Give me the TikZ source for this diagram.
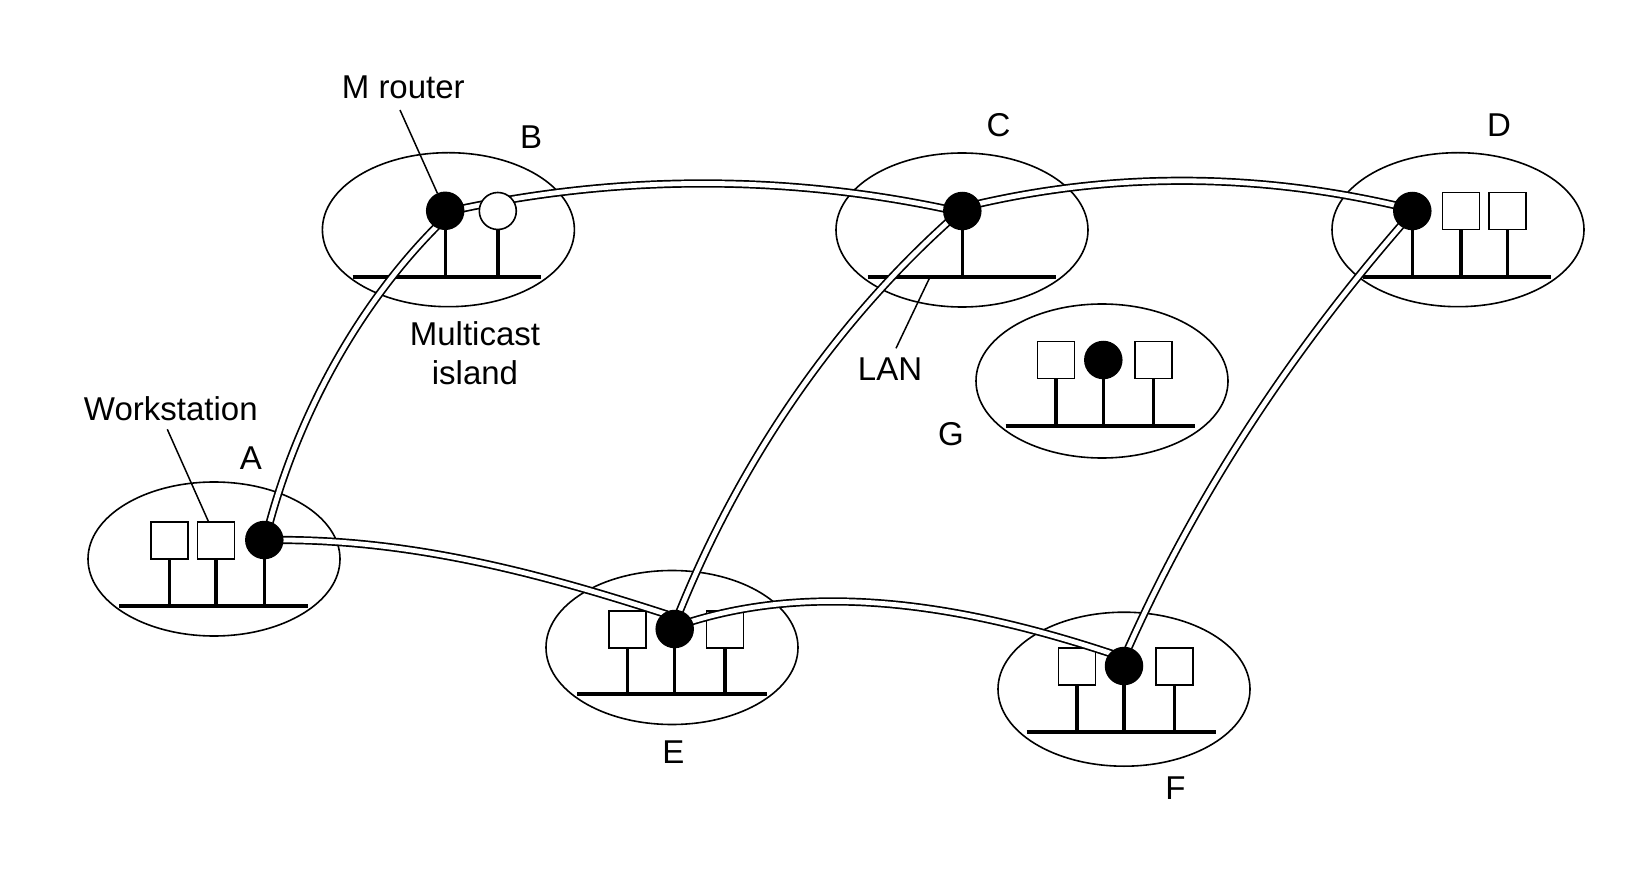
\documentclass[tikz,border=0pt]{standalone}
\usepackage{fontspec}
\setmainfont{Liberation Sans}
\usetikzlibrary{shapes.geometric}
\pgfdeclarelayer{bg}
\pgfdeclarelayer{fg}
\pgfsetlayers{bg,main,fg}
\begin{document}
\begin{tikzpicture}[x=1pt,y=-1pt,
  island/.style={draw, ellipse, line width=1.6pt, minimum width=252pt, minimum height=154pt, inner sep=0pt},
  ws/.style={draw, rectangle, line width=1.6pt, minimum size=37pt, inner sep=0pt, fill=white},
  mrouter/.style={circle, fill=black, minimum size=38.5pt, inner sep=0pt},
  plainrouter/.style={circle, draw, fill=white, line width=1.6pt, minimum size=37pt, inner sep=0pt},
  bus/.style={line width=4.2pt},
  stem/.style={line width=3.4pt},
  tunnel/.style={draw, line width=1.7pt, double=white, double distance=4.8pt, shorten <=-4pt, shorten >=-4pt},
  leader/.style={line width=1.5pt},
  lbl/.style={font=\fontsize{33}{39.3}\selectfont, inner sep=0pt},
]
\useasboundingbox (0,0) rectangle (1642,874);

% islands, LANs and workstations
\begin{pgfonlayer}{bg}
  \node[island] (islA) at (214,559) {};
  \node[island] (islB) at (448.4,229.7) {};
  \node[island] (islC) at (962,230) {};
  \node[island] (islD) at (1458,229.7) {};
  \node[island] (islE) at (672,647.5) {};
  \node[island] (islF) at (1124,689.2) {};
  \node[island] (islG) at (1102,381) {};

  \draw[bus] (119.3,606) coordinate (busA-w) -- (308.3,606) coordinate (busA-e);
  \draw[bus] (352.7,276.7) coordinate (busB-w) -- (540.7,276.7) coordinate (busB-e);
  \draw[bus] (867.7,276.7) coordinate (busC-w) -- (1056,276.7) coordinate (busC-e);
  \draw[bus] (1362.7,276.7) coordinate (busD-w) -- (1551,276.7) coordinate (busD-e);
  \draw[bus] (577.3,694.3) coordinate (busE-w) -- (766.7,694.3) coordinate (busE-e);
  \draw[bus] (1026.7,732.3) coordinate (busF-w) -- (1215.7,732.3) coordinate (busF-e);
  \draw[bus] (1005.7,426) coordinate (busG-w) -- (1195,426) coordinate (busG-e);

  \node[ws] (wsA1) at (169.2,540.5) {};
  \node[ws] (wsA2) at (215.8,540.5) {};
  \node[ws] (wsD1) at (1460.8,211.2) {};
  \node[ws] (wsD2) at (1507.5,211.2) {};
  \node[ws] (wsE1) at (627.5,629.2) {};
  \node[ws] (wsE2) at (724.8,629.2) {};
  \node[ws] (wsF1) at (1076.8,666.7) {};
  \node[ws] (wsF2) at (1174.2,666.7) {};
  \node[ws] (wsG1) at (1055.8,360.2) {};
  \node[ws] (wsG2) at (1153.2,360.2) {};

  \foreach \w/\b in {wsA1/busA-w, wsA2/busA-w, wsD1/busD-w, wsD2/busD-w,
                     wsE1/busE-w, wsE2/busE-w, wsF1/busF-w, wsF2/busF-w,
                     wsG1/busG-w, wsG2/busG-w}
    \draw[stem] (\w.south) -- (\w |- \b);
\end{pgfonlayer}

% routers sit on top of the tunnels
\begin{pgfonlayer}{fg}
  \node[mrouter] (rA) at (264.3,540) {};
  \node[mrouter] (rB) at (445.2,210.8) {};
  \node[plainrouter] (pB) at (497.8,211) {};
  \node[mrouter] (rC) at (962.3,211) {};
  \node[mrouter] (rD) at (1412.3,211) {};
  \node[mrouter] (rE) at (674.7,629) {};
  \node[mrouter] (rF) at (1124,666) {};
  \node[mrouter] (rG) at (1103.3,360) {};
\end{pgfonlayer}

\begin{pgfonlayer}{bg}
  \foreach \r/\b in {rA/busA-w, rB/busB-w, pB/busB-w, rC/busC-w, rD/busD-w,
                     rE/busE-w, rF/busF-w, rG/busG-w}
    \draw[stem] (\r.center) -- (\r |- \b);
\end{pgfonlayer}

% tunnels between multicast routers
\draw[tunnel] (rB.8) .. controls +(12:160pt) and +(168:160pt) .. (rC.172);
\draw[tunnel] (rC.23) .. controls +(13:140pt) and +(167:140pt) .. (rD.162);
\draw[tunnel] (rB.240) .. controls +(225:110pt) and +(75:110pt) .. (rA.73);
\draw[tunnel] (rA.0) .. controls +(0:130pt) and +(162:130pt) .. (rE.126);
\draw[tunnel] (rC.218) .. controls +(222:157pt) and +(68:157pt) .. (rE.74);
\draw[tunnel] (rE.24) .. controls +(17.5:139pt) and +(161.6:139pt) .. (rF.138);
\draw[tunnel] (rD.232) .. controls +(229:167pt) and +(66:167pt) .. (rF.76);

% labels
\node[lbl, anchor=base] (lblMR) at (403.3,98.5) {M router};
\node[lbl, anchor=base] (lblB) at (531,148.8) {B};
\node[lbl, anchor=base] (lblC) at (998.5,136.3) {C};
\node[lbl, anchor=base] (lblD) at (1499,136.3) {D};
\node[lbl, anchor=base] (lblA) at (251,469.3) {A};
\node[lbl, anchor=base] (lblWS) at (170.8,421) {Workstation};
\node[lbl, align=center] (lblMI) at (475,353.5) {Multicast\\island};
\node[lbl, anchor=base] (lblLAN) at (890,380.4) {LAN};
\node[lbl, anchor=base] (lblG) at (951,445.3) {G};
\node[lbl, anchor=base] (lblE) at (673.3,763.8) {E};
\node[lbl, anchor=base] (lblF) at (1175.5,799.8) {F};

% leader lines
\coordinate (mrTail) at (400,110);
\draw[leader] (mrTail) -- (rB.114);
\coordinate (wsTail) at (167.3,429.3);
\draw[leader] (wsTail) -- ([xshift=-7.5pt]wsA2.north);
\coordinate (lanTip) at (930,277);
\coordinate (lanTail) at (896,348.3);
\draw[leader] (lanTip) -- (lanTail);
\end{tikzpicture}
\end{document}
